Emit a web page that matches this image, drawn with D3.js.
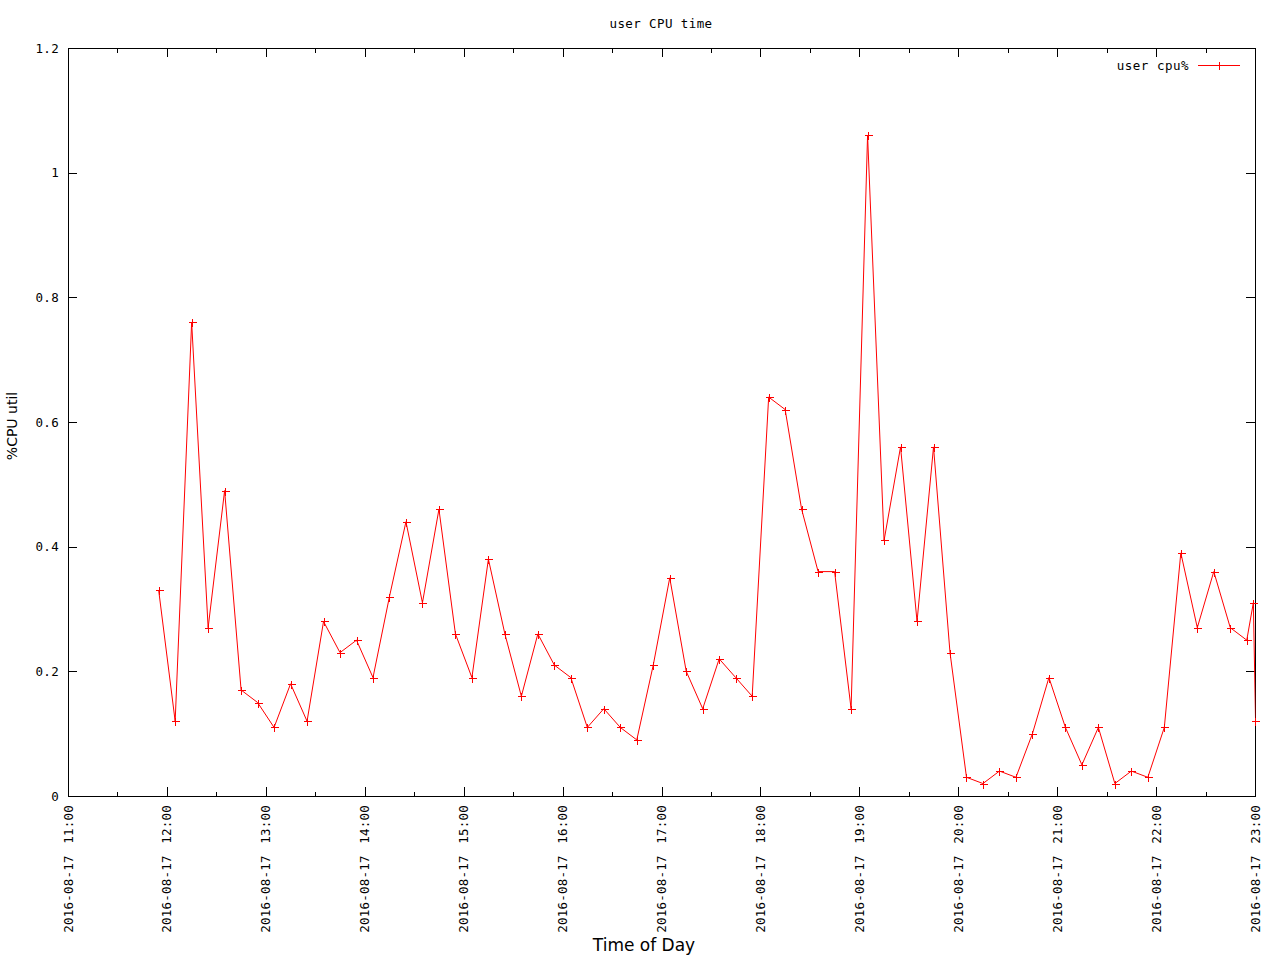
<!DOCTYPE html>
<html><head><meta charset="utf-8">
<script src="https://cdn.jsdelivr.net/npm/d3@7"></script>
<style>
body{margin:0;background:#fff;}
text{font-family:"DejaVu Sans Mono","Liberation Mono",monospace;}
</style></head>
<body><svg id="c" width="1280" height="960"></svg>
<script>
const times = ["11:55","12:05","12:15","12:25","12:35","12:45","12:55","13:05","13:15","13:25","13:35","13:45","13:55",
"14:05","14:15","14:25","14:35","14:45","14:55","15:05","15:15","15:25","15:35","15:45","15:55",
"16:05","16:15","16:25","16:35","16:45","16:55","17:05","17:15","17:25","17:35","17:45","17:55",
"18:05","18:15","18:25","18:35","18:45","18:55","19:05","19:15","19:25","19:35","19:45","19:55",
"20:05","20:15","20:25","20:35","20:45","20:55","21:05","21:15","21:25","21:35","21:45","21:55",
"22:05","22:15","22:25","22:35","22:45","22:55","22:59","23:00:20"];
const values = [0.33,0.12,0.76,0.27,0.49,0.17,0.15,0.11,0.18,0.12,0.28,0.23,0.25,
0.19,0.32,0.44,0.31,0.46,0.26,0.19,0.38,0.26,0.16,0.26,0.21,
0.19,0.11,0.14,0.11,0.09,0.21,0.35,0.20,0.14,0.22,0.19,0.16,
0.64,0.62,0.46,0.36,0.36,0.14,1.06,0.41,0.56,0.28,0.56,0.23,
0.03,0.02,0.04,0.03,0.10,0.19,0.11,0.05,0.11,0.02,0.04,0.03,
0.11,0.39,0.27,0.36,0.27,0.25,0.31,0.12];
const xDomain = ["11:00","23:00"];
const yTicks = [0,0.2,0.4,0.6,0.8,1,1.2];
const title = "user CPU time";
const seriesName = "user cpu%";
const xLabel = "Time of Day";
const yLabel = "%CPU util";

const parse = s => {
  const p = s.split(":").map(Number);
  return new Date(2016,7,17,p[0],p[1],p[2]||0);
};
const data = times.map((t,i)=>({t:parse(t), v:values[i]}));

const L=68, R=1255, T=48, B=796;
const svg = d3.select("#c");
const x = d3.scaleTime().domain(xDomain.map(parse)).range([L,R]);
const y = d3.scaleLinear().domain([0,1.2]).range([B,T]);

const majorT = x.ticks(d3.timeHour.every(1));
const minorT = x.ticks(d3.timeMinute.every(30)).filter(d=>d.getMinutes()===30);
const g = svg.append("g").attr("shape-rendering","crispEdges");
function tickLine(px,y1,y2){g.append("line").attr("x1",px).attr("x2",px).attr("y1",y1).attr("y2",y2).attr("stroke","#000");}
majorT.forEach(d=>{const px=Math.round(x(d))+0.5; tickLine(px,B,B-9); tickLine(px,T,T+9);});
minorT.forEach(d=>{const px=Math.round(x(d))+0.5; tickLine(px,B,B-4.5); tickLine(px,T,T+4.5);});
yTicks.forEach(v=>{const py=Math.round(y(v))+0.5;
  g.append("line").attr("x1",L).attr("x2",L+9).attr("y1",py).attr("y2",py).attr("stroke","#000");
  g.append("line").attr("x1",R).attr("x2",R-9).attr("y1",py).attr("y2",py).attr("stroke","#000");
});
const fmt = d3.timeFormat("%Y-%m-%d %H:%M");
majorT.forEach(d=>{
  const px=x(d);
  svg.append("text").attr("transform",`translate(${px+4.5},805) rotate(-90)`)
    .attr("text-anchor","end").attr("font-size",12.5).attr("letter-spacing",0.2)
    .attr("word-spacing",4).text(fmt(d));
});
yTicks.forEach(v=>{
  svg.append("text").attr("x",59).attr("y",y(v)+4.5).attr("text-anchor","end")
    .attr("font-size",12.5).attr("letter-spacing",0.3).text(d3.format("")(v));
});
g.append("rect").attr("x",L+0.5).attr("y",T+0.5).attr("width",R-L).attr("height",B-T)
  .attr("fill","none").attr("stroke","#000");
svg.append("clipPath").attr("id","clip").append("rect").attr("x",L).attr("y",T).attr("width",R-L+0.5).attr("height",B-T);
const line = d3.line().x(d=>x(d.t)).y(d=>y(d.v));
svg.append("path").datum(data).attr("d",line).attr("fill","none").attr("stroke","#ff0000")
  .attr("stroke-width",1).attr("clip-path","url(#clip)");
const mk = svg.append("g").attr("stroke","#ff0000").attr("stroke-width",1).attr("shape-rendering","crispEdges");
data.forEach(d=>{
  const px=Math.min(Math.round(x(d.t)),R)+0.5, py=Math.round(y(d.v))+0.5;
  mk.append("line").attr("x1",px-4).attr("x2",px+4).attr("y1",py).attr("y2",py);
  mk.append("line").attr("x1",px).attr("x2",px).attr("y1",py-4).attr("y2",py+4);
});
svg.append("text").attr("x",661).attr("y",28).attr("text-anchor","middle").attr("font-size",12.5)
  .attr("letter-spacing",0.4).text(title);
svg.append("text").attr("x",1189).attr("y",69.5).attr("text-anchor","end").attr("font-size",12.5)
  .attr("letter-spacing",0.5).text(seriesName);
svg.append("line").attr("x1",1198).attr("x2",1240).attr("y1",65.5).attr("y2",65.5).attr("stroke","#ff0000").attr("shape-rendering","crispEdges");
svg.append("line").attr("x1",1219.5).attr("x2",1219.5).attr("y1",61.5).attr("y2",69.5).attr("stroke","#ff0000").attr("shape-rendering","crispEdges");
svg.append("text").attr("x",644).attr("y",951).attr("text-anchor","middle")
  .style("font-family","'DejaVu Sans',sans-serif").attr("font-size",17).text(xLabel);
svg.append("text").attr("transform","translate(17,426) rotate(-90)").attr("text-anchor","middle")
  .style("font-family","'DejaVu Sans',sans-serif").attr("font-size",14).text(yLabel);
</script></body></html>
